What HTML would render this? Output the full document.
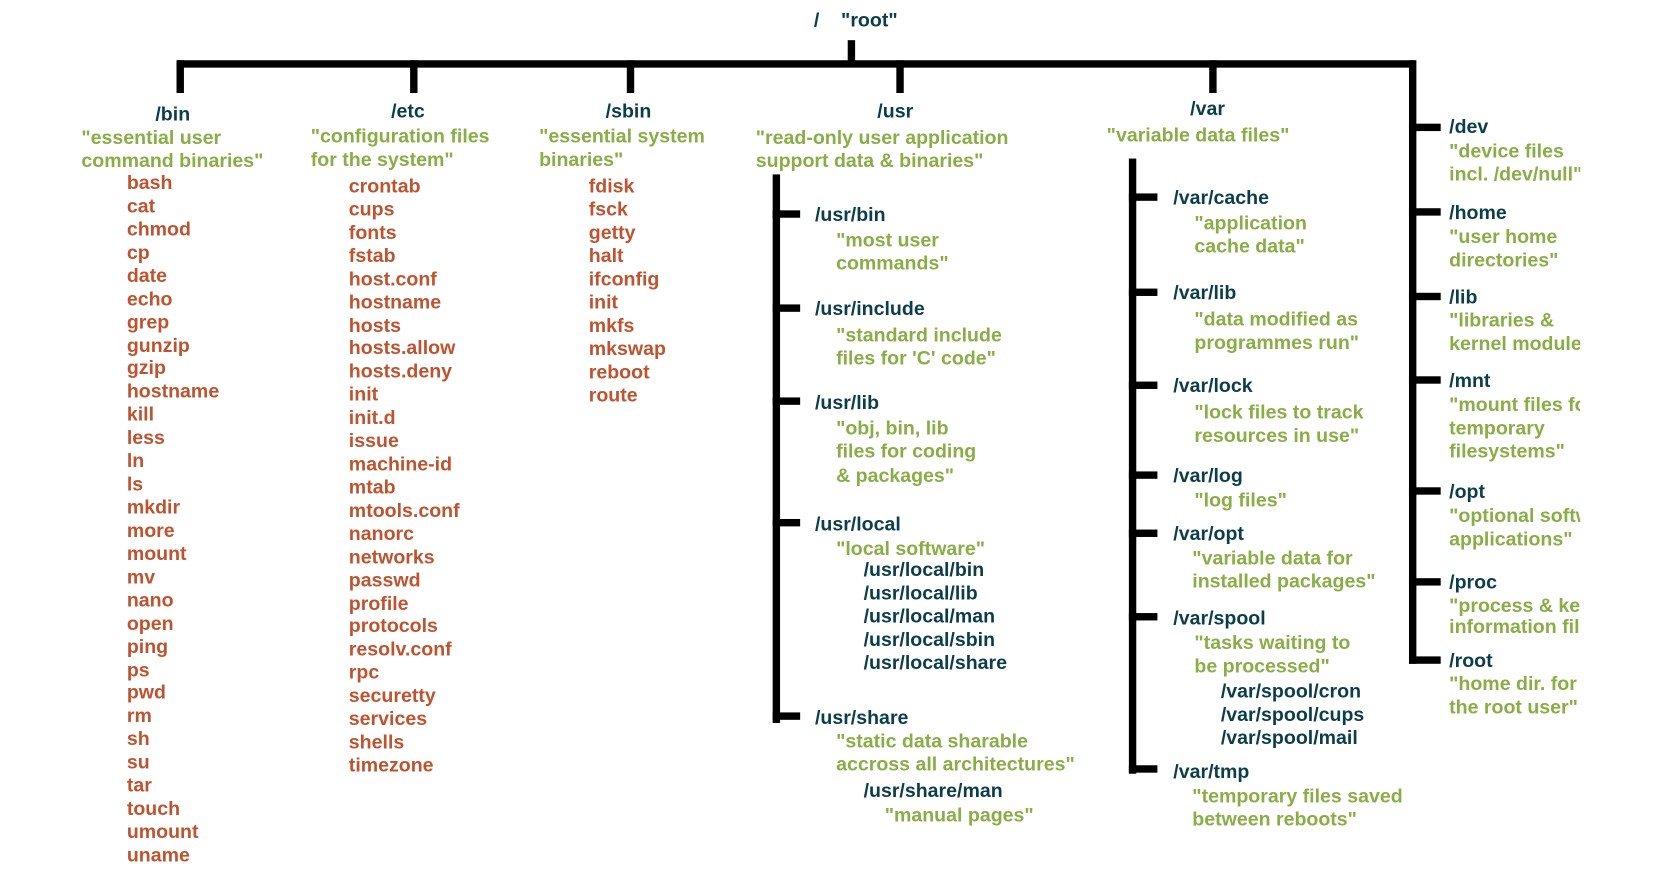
<!DOCTYPE html>
<html><head><meta charset="utf-8"><style>
html,body{margin:0;padding:0;background:#fff;}
body{width:1653px;height:888px;overflow:hidden;position:relative;}
#stage{position:absolute;left:0;top:0;width:1564px;height:840px;transform:scale(1.057);transform-origin:0 0;}
.t{position:absolute;white-space:pre;font-family:"Liberation Sans",sans-serif;font-weight:bold;font-size:18.5px;line-height:22px;height:22px;}
.h{color:#0b3d4a;} .d{color:#8aad45;} .i{color:#c0532f;}
.ln{position:absolute;background:#000;}
#clip{position:absolute;left:1371px;top:0;width:124px;height:840px;overflow:hidden;}
</style></head><body>
<div id="stage">
<div id="clip"></div>
</div>
<script>
const stage=document.getElementById('stage');
const clip=document.getElementById('clip');
// [text, class, x, centerY, inClip]
const labels=[
["/    \"root\"","h",770,19],
["/bin","h",147,108],["\"essential user","d",77,130],["command binaries\"","d",77,152],
["/etc","h",370,105],["\"configuration files","d",294,129],["for the system\"","d",294,151],
["/sbin","h",573,105],["\"essential system","d",510,129],["binaries\"","d",510,151],
["/usr","h",830,105],["\"read-only user application","d",715,130],["support data & binaries\"","d",715,152],
["/usr/bin","h",771,203],["\"most user","d",791,227],["commands\"","d",791,249],
["/usr/include","h",771,292],["\"standard include","d",791,317],["files for 'C' code\"","d",791,339],
["/usr/lib","h",771,381],["\"obj, bin, lib","d",791,405],["files for coding","d",791,427],["& packages\"","d",791,450],
["/usr/local","h",771,496],["\"local software\"","d",791,519],
["/usr/local/bin","h",817,539],["/usr/local/lib","h",817,561],["/usr/local/man","h",817,583],["/usr/local/sbin","h",817,605],["/usr/local/share","h",817,627],
["/usr/share","h",771,679],["\"static data sharable","d",791,701],["accross all architectures\"","d",791,723],
["/usr/share/man","h",817,748],["\"manual pages\"","d",837,771],
["/var","h",1126,103],["\"variable data files\"","d",1047,128],
["/var/cache","h",1110,187],["\"application","d",1130,211],["cache data\"","d",1130,233],
["/var/lib","h",1110,277],["\"data modified as","d",1130,302],["programmes run\"","d",1130,324],
["/var/lock","h",1110,365],["\"lock files to track","d",1130,390],["resources in use\"","d",1130,412],
["/var/log","h",1110,450],["\"log files\"","d",1130,473],
["/var/opt","h",1110,505],["\"variable data for","d",1128,528],["installed packages\"","d",1128,550],
["/var/spool","h",1110,585],["\"tasks waiting to","d",1130,608],["be processed\"","d",1130,630],
["/var/spool/cron","h",1155,654],["/var/spool/cups","h",1155,676],["/var/spool/mail","h",1155,698],
["/var/tmp","h",1110,730],["\"temporary files saved","d",1128,753],["between reboots\"","d",1128,775],
["/dev","h",1371,120,1],["\"device files","d",1371,143,1],["incl. /dev/null\"","d",1371,165,1],
["/home","h",1371,201,1],["\"user home","d",1371,224,1],["directories\"","d",1371,246,1],
["/lib","h",1371,281,1],["\"libraries &","d",1371,303,1],["kernel modules\"","d",1371,325,1],
["/mnt","h",1371,360,1],["\"mount files for","d",1371,383,1],["temporary","d",1371,405,1],["filesystems\"","d",1371,427,1],
["/opt","h",1371,465,1],["\"optional software","d",1371,488,1],["applications\"","d",1371,510,1],
["/proc","h",1371,551,1],["\"process & kernel","d",1371,573,1],["information files\"","d",1371,593,1],
["/root","h",1371,625,1],["\"home dir. for","d",1371,647,1],["the root user\"","d",1371,669,1]
];
const binItems=["bash","cat","chmod","cp","date","echo","grep","gunzip","gzip","hostname","kill","less","ln","ls","mkdir","more","mount","mv","nano","open","ping","ps","pwd","rm","sh","su","tar","touch","umount","uname"];
const etcItems=["crontab","cups","fonts","fstab","host.conf","hostname","hosts","hosts.allow","hosts.deny","init","init.d","issue","machine-id","mtab","mtools.conf","nanorc","networks","passwd","profile","protocols","resolv.conf","rpc","securetty","services","shells","timezone"];
const sbinItems=["fdisk","fsck","getty","halt","ifconfig","init","mkfs","mkswap","reboot","route"];
function addText(txt,cls,x,y,inClip){
  const el=document.createElement('div');
  el.className='t '+cls;
  el.textContent=txt;
  
  
  el.style.left=(inClip?x-1371:x)+'px';
  el.style.top=(y-11)+'px';
  (inClip?clip:stage).appendChild(el);
}
labels.forEach(l=>addText(l[0],l[1],l[2],l[3],l[4]));
binItems.forEach((s,k)=>addText(s,'i',120,173+k*21.93));
etcItems.forEach((s,k)=>addText(s,'i',330,176+k*21.92));
sbinItems.forEach((s,k)=>addText(s,'i',557,176+k*22));
// lines: [x,y,w,h]
const lines=[
[802,38,7,24],[167,57,1172,7],
[167,57,7,31],[388,57,7,31],[593,57,7,31],[848,57,7,31],[1144,57,7,31],[1333,57,7,571],
[731,165,7,519],[1068,150,7,582]
];
const usrTicks=[202,291,379,494,677];
const varTicks=[186,276,364,449,504,583,727];
const rootTicks=[120,200,280,359,464,550,624];
lines.forEach(a=>{
  const el=document.createElement('div');
  el.className='ln';
  
  
  el.style.cssText+=`left:${a[0]}px;top:${a[1]}px;width:${a[2]}px;height:${a[3]}px;`;
  stage.appendChild(el);
});
function tick(x,y,w){
  const el=document.createElement('div');
  el.className='ln';
  
  
  el.style.cssText+=`left:${x}px;top:${y-3.5}px;width:${w}px;height:7px;`;
  stage.appendChild(el);
}
usrTicks.forEach(y=>tick(731,y,26));
varTicks.forEach(y=>tick(1068,y,27));
rootTicks.forEach(y=>tick(1333,y,30));
</script>
</body></html>
